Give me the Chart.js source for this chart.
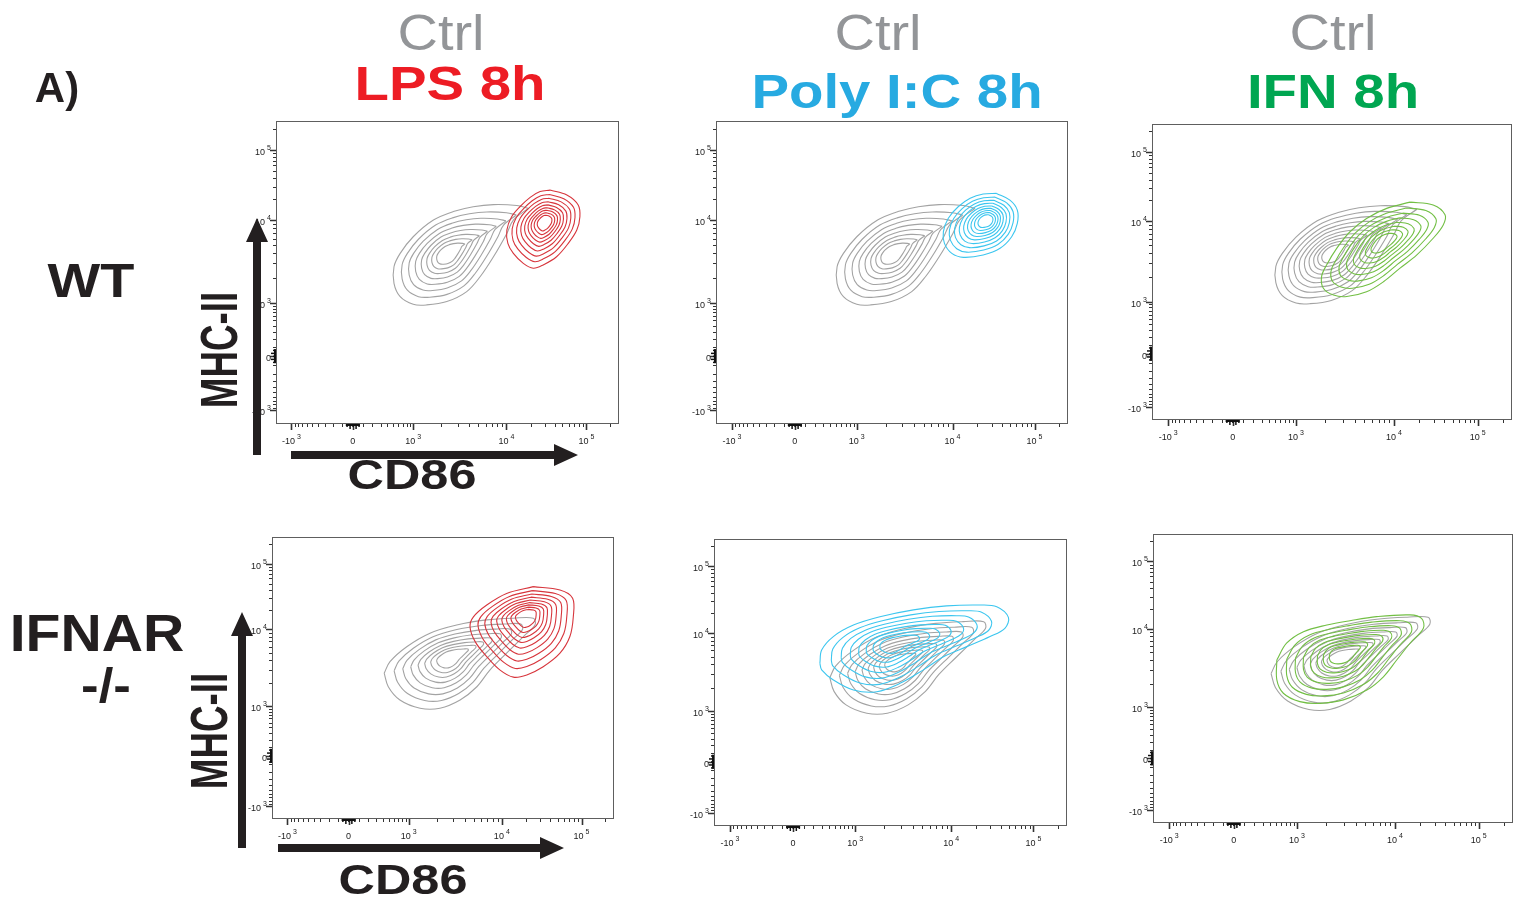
<!DOCTYPE html>
<html>
<head>
<meta charset="utf-8">
<script src="https://cdn.jsdelivr.net/npm/chart.js@4.4.1/dist/chart.umd.min.js"></script>
<style>
  html, body { margin:0; padding:0; background:#fff; }
  body { width:1520px; height:899px; position:relative; overflow:hidden; font-family:"Liberation Sans", Arial, Helvetica, sans-serif; }
  canvas { position:absolute; }
  .t { position:absolute; white-space:nowrap; line-height:1; text-align:center; transform-origin:50% 50%; }
  svg { position:absolute; left:0; top:0; }
</style>
</head>
<body>
<script>
// ================= DATA =================
// Axis calibration (biexponential display, channel units 0..1000 across each plot)
const TICK_VALUES   = [-1000, 0, 1000, 10000, 100000];
const TICK_LABELS   = ['-10³', '0', '10³', '10⁴', '10⁵'];
const TICK_CHANNELS = [45, 224, 400, 672, 905];
const MINOR_VALUES  = [-900,-800,-700,-600,-500,-400,-300,-200,-100,
                       100,200,300,400,500,600,700,800,900,
                       2000,3000,4000,5000,6000,7000,8000,9000,
                       20000,30000,40000,50000,60000,70000,80000,90000,200000];

// Titles / categories
const CTRL_LABEL  = 'Ctrl';
const TREATMENTS  = ['LPS 8h', 'Poly I:C 8h', 'IFN 8h'];
const GENOTYPES   = [['WT'], ['IFNAR', '-/-']];
const X_TITLE     = 'CD86';
const Y_TITLE     = 'MHC-II';
const PANEL_LABEL = 'A)';

// Contour outlines (outermost level) in channel units [CD86, MHC-II], plus density peak
const WT_CTRL_OUTER = [[736,712],[692,673],[673,629],[634,552],[595,486],[556,437],[498,404],[439,393],[400,395],[362,420],[344,464],[344,519],[362,563],[400,618],[459,673],[517,701],[575,717],[634,724],[702,721]];
const WT_CTRL_PEAK  = [502, 563];
const WT_LPS_OUTER  = [[799,772],[848,756],[881,723],[886,684],[877,640],[852,596],[818,552],[779,525],[750,514],[721,530],[692,563],[676,596],[673,640],[687,684],[711,717],[741,748],[770,767]];
const WT_LPS_PEAK   = [784, 668];
const WT_POLY_OUTER = [[797,761],[835,739],[856,706],[856,662],[840,618],[807,580],[759,558],[703,550],[670,563],[649,596],[646,635],[660,679],[688,717],[722,745],[759,759]];
const WT_POLY_PEAK  = [769, 673];
const WT_IFN_OUTER  = [[717,736],[781,726],[814,693],[809,659],[781,614],[735,557],[689,513],[643,467],[596,433],[541,417],[504,422],[476,445],[471,484],[485,524],[513,580],[550,636],[596,681],[652,715]];
const WT_IFN_PEAK   = [645, 603];

const KO_CTRL_OUTER = [[328,517],[340,469],[374,422],[433,393],[491,393],[550,422],[599,469],[637,528],[686,588],[735,647],[769,688],[764,712],[706,712],[628,706],[540,688],[462,659],[394,611],[345,558]];
const KO_CTRL_PEAK  = [522, 574];
const KO_LPS_OUTER  = [[764,824],[842,812],[879,783],[881,717],[871,647],[842,588],[793,540],[745,511],[706,503],[667,528],[628,576],[594,629],[579,682],[589,717],[628,759],[686,800]];
const KO_LPS_PEAK   = [745, 723];
const KO_POLY_OUTER = [[300,567],[305,613],[338,660],[395,700],[470,729],[565,753],[659,767],[754,770],[801,764],[834,727],[824,689],[782,660],[716,625],[650,590],[593,544],[527,497],[461,468],[395,474],[338,509],[305,544]];
const KO_POLY_PEAK  = [515, 637];
const KO_IFN_OUTER  = [[344,564],[371,622],[418,662],[483,685],[547,700],[621,714],[714,720],[746,708],[751,674],[714,622],[677,564],[640,506],[594,460],[529,426],[464,414],[408,420],[362,449],[344,495]];
const KO_IFN_PEAK   = [529, 587];

// Relative size of each contour level (outer = 1)
const LEVELS_8  = [1, 0.85, 0.72, 0.60, 0.49, 0.39, 0.30, 0.21];
const LEVELS_9  = [1, 0.86, 0.74, 0.63, 0.53, 0.44, 0.36, 0.28, 0.20];
const LEVELS_10 = [1, 0.88, 0.77, 0.67, 0.58, 0.49, 0.41, 0.33, 0.26, 0.19];

// ================= STYLE / LAYOUT =================
const FONT = '"Liberation Sans", Arial, Helvetica, sans-serif';
const INK = '#231f20';
const GRAY_LINE = '#a3a3a3';
const TREAT_TEXT = ['#ed1c24', '#27aae1', '#00a651'];
const TREAT_LINE = ['#d7353c', '#3cc6ef', '#72bf44'];
const YW = 40, XH = 30, PADT = 6, PADR = 6;

const PANELS = [
  { box:[276,121,619,424], ctrl:[WT_CTRL_OUTER, WT_CTRL_PEAK, LEVELS_8],  stim:[WT_LPS_OUTER,  WT_LPS_PEAK,  LEVELS_9],  t:0 },
  { box:[716,121,1068,424],ctrl:[WT_CTRL_OUTER, WT_CTRL_PEAK, LEVELS_8],  stim:[WT_POLY_OUTER, WT_POLY_PEAK, LEVELS_9],  t:1 },
  { box:[1152,124,1512,420],ctrl:[WT_CTRL_OUTER, WT_CTRL_PEAK, LEVELS_10], stim:[WT_IFN_OUTER,  WT_IFN_PEAK,  LEVELS_8],  t:2 },
  { box:[272,537,614,819], ctrl:[KO_CTRL_OUTER, KO_CTRL_PEAK, LEVELS_8],  stim:[KO_LPS_OUTER,  KO_LPS_PEAK,  LEVELS_9],  t:0 },
  { box:[714,539,1067,826],ctrl:[KO_CTRL_OUTER, KO_CTRL_PEAK, LEVELS_9],  stim:[KO_POLY_OUTER, KO_POLY_PEAK, LEVELS_8],  t:1 },
  { box:[1153,534,1513,823],ctrl:[KO_CTRL_OUTER, KO_CTRL_PEAK, LEVELS_9], stim:[KO_IFN_OUTER,  KO_IFN_PEAK,  LEVELS_8],  t:2 }
];

// ================= HELPERS =================
function toChannel(v){
  const [nNeg, nZero, n3, n4, n5] = TICK_CHANNELS;
  if (v >= 10000) return n4 + Math.log10(v/10000)*(n5-n4);
  if (v >= 1000)  return n3 + Math.log10(v/1000)*(n4-n3);
  if (v <= -1000) return nNeg - Math.log10(-v/1000)*(n3-nZero);
  const f = Math.asinh(Math.abs(v)/300)/Math.asinh(1000/300);
  return v >= 0 ? nZero + f*(n3-nZero) : nZero - f*(nZero-nNeg);
}

function rings(outer, peak, levels){
  return levels.map(s => {
    const pts = outer.map(([x,y]) => ({ x: peak[0] + (x-peak[0])*s, y: peak[1] + (y-peak[1])*s }));
    pts.push({ x: pts[0].x, y: pts[0].y });
    return pts;
  });
}

function addText(txt, o){
  const d = document.createElement('div');
  d.className = 't';
  d.textContent = txt;
  d.style.fontSize = o.size + 'px';
  d.style.fontWeight = o.bold ? 'bold' : 'normal';
  d.style.color = o.color || INK;
  d.style.width = '600px';
  d.style.zIndex = 5;
  d.style.left = (o.cx - 300) + 'px';
  if (o.rotate){
    d.style.top = (o.cy - o.size/2) + 'px';
    d.style.transform = `rotate(-90deg) scale(${o.sx||1}, ${o.sy||1})`;
  } else {
    d.style.top = (o.baseline - 0.8465*o.size) + 'px';
    d.style.transform = `scale(${o.sx||1}, ${o.sy||1})`;
  }
  document.body.appendChild(d);
}

const SUP = { '⁰':'0','¹':'1','²':'2','³':'3','⁴':'4','⁵':'5','⁶':'6','⁷':'7','⁸':'8','⁹':'9' };
function splitLabel(lbl){
  let base = '', sup = '';
  for (const ch of lbl){ if (SUP[ch] !== undefined) sup += SUP[ch]; else base += ch; }
  return [base, sup];
}
function drawTickLabel(ctx, lbl, x, baseY, align){
  const [base, sup] = splitLabel(lbl);
  const gap = 2;
  ctx.font = `9px ${FONT}`;
  const wb = ctx.measureText(base).width;
  ctx.font = `7px ${FONT}`;
  const ws = sup ? ctx.measureText(sup).width + gap : 0;
  const total = wb + ws;
  const x0 = align === 'right' ? x - total : x - total/2;
  ctx.textAlign = 'left'; ctx.textBaseline = 'alphabetic';
  ctx.font = `9px ${FONT}`; ctx.fillText(base, x0, baseY);
  if (sup){ ctx.font = `7px ${FONT}`; ctx.fillText(sup, x0 + wb + gap, baseY - 5); }
}

const framePlugin = {
  id: 'frame',
  afterDraw(chart){
    const { ctx, chartArea:a, scales:{x, y} } = chart;
    ctx.save();
    const L = Math.round(a.left), R = Math.round(a.right), T = Math.round(a.top), B = Math.round(a.bottom);
    ctx.strokeStyle = '#5e5e5e'; ctx.lineWidth = 1;
    ctx.strokeRect(L+0.5, T+0.5, R-L-1, B-T-1);
    ctx.strokeStyle = '#333';
    const tick = (v, len) => {
      const c = toChannel(v);
      const px = Math.round(x.getPixelForValue(c)) + 0.5;
      const py = Math.round(y.getPixelForValue(c)) + 0.5;
      ctx.beginPath();
      ctx.moveTo(px, B); ctx.lineTo(px, B + len);
      ctx.moveTo(L, py); ctx.lineTo(L - len, py);
      ctx.stroke();
    };
    ctx.lineWidth = 1.6; TICK_VALUES.forEach(v => tick(v, 6));
    ctx.lineWidth = 1;   MINOR_VALUES.forEach(v => tick(v, 3));
    // tick labels with superscript exponents
    ctx.fillStyle = '#222';
    TICK_VALUES.forEach((v, i) => {
      const c = toChannel(v);
      drawTickLabel(ctx, TICK_LABELS[i], x.getPixelForValue(c), B + 20, 'center');
      drawTickLabel(ctx, TICK_LABELS[i], L - 5, y.getPixelForValue(c) + 5, 'right');
    });
    // event pile-up at zero on both axes
    ctx.fillStyle = '#111';
    const zx = x.getPixelForValue(toChannel(0)), zy = y.getPixelForValue(toChannel(0));
    ctx.fillRect(zx-7, B, 14, 2);
    [-6,-3,0,3,6].forEach((o,i) => ctx.fillRect(zx+o-0.5, B, 1.5, 3 + (i%2)*2));
    ctx.fillRect(L-2, zy-7, 2, 14);
    [-6,-3,0,3,6].forEach((o,i) => ctx.fillRect(L-3-(i%2)*2, zy+o-0.5, 3+(i%2)*2, 1.5));
    ctx.restore();
  }
};

function axisCfg(isX){
  return {
    type:'linear', min:0, max:1000,
    afterFit(s){
      if (isX) s.height = XH; else s.width = YW;
      s.paddingTop = 0; s.paddingBottom = 0; s.paddingLeft = 0; s.paddingRight = 0;
    },
    afterBuildTicks(s){ s.ticks = TICK_VALUES.map(v => ({ value: toChannel(v) })); },
    ticks:{ display:false },
    grid:{ display:false, drawTicks:false },
    border:{ display:false }
  };
}

// ================= CHARTS =================
PANELS.forEach(p => {
  const [L,T,R,B] = p.box;
  const cv = document.createElement('canvas');
  const w = (R-L) + YW + PADR, h = (B-T) + PADT + XH;
  cv.width = w; cv.height = h;
  cv.style.left = (L - YW) + 'px'; cv.style.top = (T - PADT) + 'px';
  cv.style.width = w + 'px'; cv.style.height = h + 'px';
  document.body.appendChild(cv);

  const datasets = [];
  rings(...p.stim).forEach(pts => datasets.push({ data:pts, borderColor:TREAT_LINE[p.t], borderWidth:1.1 }));
  rings(...p.ctrl).forEach(pts => datasets.push({ data:pts, borderColor:GRAY_LINE, borderWidth:1.1 }));
  datasets.forEach(d => { d.showLine = true; d.pointRadius = 0; d.tension = 0.35; d.fill = false; });

  new Chart(cv.getContext('2d'), {
    type:'scatter',
    data:{ datasets },
    options:{
      responsive:false, animation:false, devicePixelRatio:1,
      layout:{ padding:{ top:PADT, right:PADR, left:0, bottom:0 } },
      plugins:{ legend:{ display:false }, tooltip:{ enabled:false } },
      scales:{ x:axisCfg(true), y:axisCfg(false) }
    },
    plugins:[framePlugin]
  });
});

// ================= TEXT =================
const CTRL_CX  = [441, 878, 1333];
const TREAT_CX = [450, 897, 1333];
const TREAT_BL = [100, 108, 108];
CTRL_CX.forEach(cx => addText(CTRL_LABEL, { cx, baseline:50, size:50, color:'#939598', sx:1.12 }));
TREATMENTS.forEach((t,i) => addText(t, { cx:TREAT_CX[i], baseline:TREAT_BL[i], size:49, bold:true, color:TREAT_TEXT[i], sx:1.15 }));
addText(PANEL_LABEL, { cx:57, baseline:103, size:42, bold:true });
addText(GENOTYPES[0][0], { cx:91, baseline:297, size:49, bold:true, sx:1.14 });
addText(GENOTYPES[1][0], { cx:97, baseline:651, size:51, bold:true, sx:1.12 });
addText(GENOTYPES[1][1], { cx:106, baseline:703, size:48, bold:true, sx:1.1 });
addText(Y_TITLE, { cx:218.5, cy:350, size:46, bold:true, rotate:true, sx:0.8, sy:1.12 });
addText(Y_TITLE, { cx:209, cy:731, size:46, bold:true, rotate:true, sx:0.8, sy:1.12 });
addText(X_TITLE, { cx:411.5, baseline:490, size:42, bold:true, sx:1.2 });
addText(X_TITLE, { cx:402.5, baseline:895, size:42, bold:true, sx:1.2 });

// ================= AXIS ARROWS =================
const NS = 'http://www.w3.org/2000/svg';
const svg = document.createElementNS(NS, 'svg');
svg.setAttribute('width', 1520); svg.setAttribute('height', 899);
svg.style.zIndex = 4;
function arrow(x1, y1, x2, y2){
  const ang = Math.atan2(y2-y1, x2-x1), hl = 24, hw = 11, sw = 4;
  const bx = x2 - Math.cos(ang)*hl, by = y2 - Math.sin(ang)*hl;
  const nx = -Math.sin(ang), ny = Math.cos(ang);
  const pts = [
    [x1+nx*sw, y1+ny*sw],[bx+nx*sw, by+ny*sw],[bx+nx*hw, by+ny*hw],[x2,y2],
    [bx-nx*hw, by-ny*hw],[bx-nx*sw, by-ny*sw],[x1-nx*sw, y1-ny*sw]
  ];
  const pg = document.createElementNS(NS, 'polygon');
  pg.setAttribute('points', pts.map(q => q.join(',')).join(' '));
  pg.setAttribute('fill', INK);
  svg.appendChild(pg);
}
arrow(257, 455, 257, 218);
arrow(291, 455, 578, 455);
arrow(242, 848, 242, 612);
arrow(278, 848, 564, 848);
document.body.appendChild(svg);
</script>
</body>
</html>
